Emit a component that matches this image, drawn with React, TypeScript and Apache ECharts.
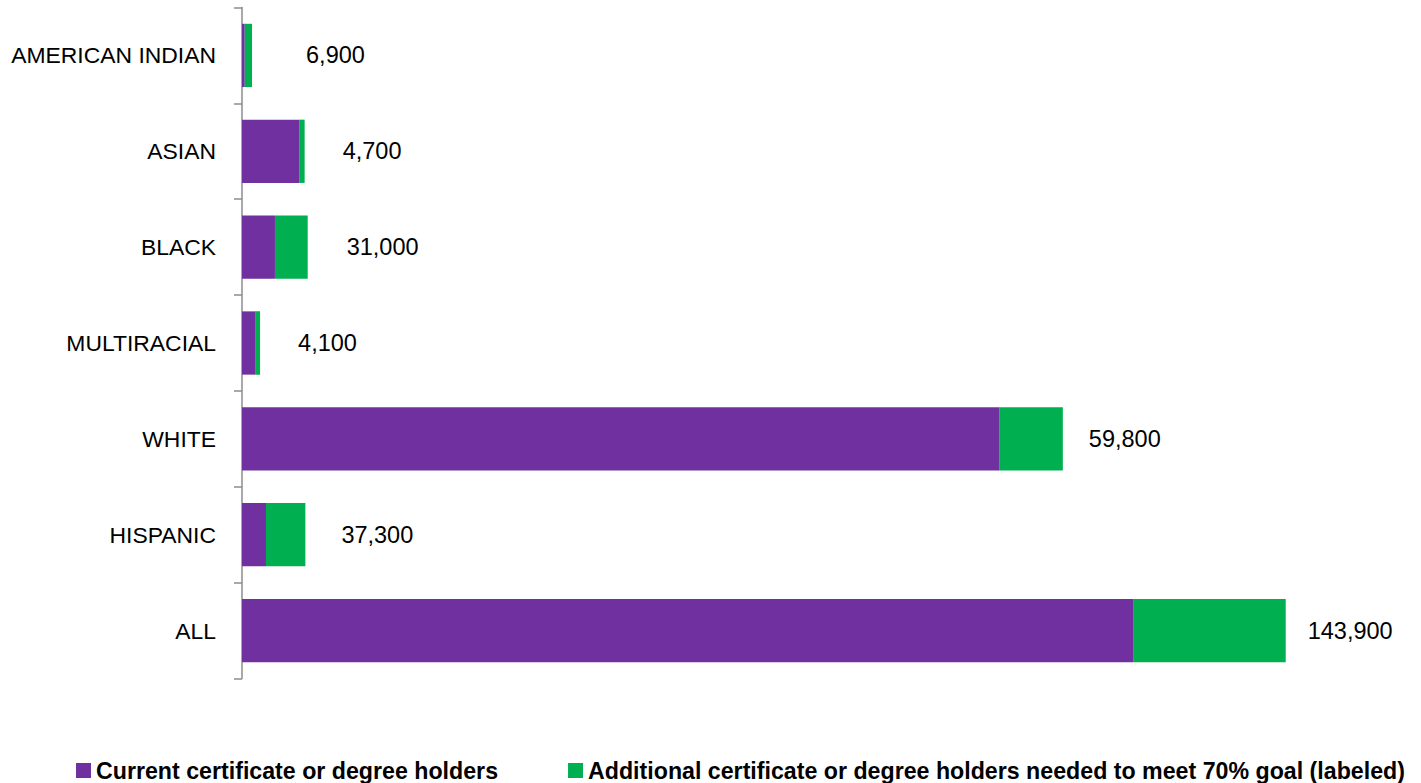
import React, { useEffect, useRef } from "react";
import * as echarts from "echarts";

const categories = ["AMERICAN INDIAN", "ASIAN", "BLACK", "MULTIRACIAL", "WHITE", "HISPANIC", "ALL"];
const currentHolders = [2600, 54600, 31200, 13000, 717300, 22700, 844200];
const additionalNeeded = [6900, 4700, 31000, 4100, 59800, 37300, 143900];
const labelGaps = [54, 38, 39, 38, 26, 36, 22];
const seriesNames = [
  "Current certificate or degree holders",
  "Additional certificate or degree holders needed to meet 70% goal (labeled)",
];

const FONT = "'Liberation Sans', Arial, sans-serif";

export default function App() {
  const ref = useRef<HTMLDivElement>(null);
  useEffect(() => {
    if (!ref.current) return;
    const chart = echarts.init(ref.current, null, { renderer: "svg" });
    chart.setOption({
      animation: false,
      backgroundColor: "#ffffff",
      textStyle: { fontFamily: FONT },
      grid: { left: 242, right: 122.7, top: 7.5, bottom: 783 - 678.5, containLabel: false },
      legend: {
        left: 76,
        top: 759,
        padding: 0,
        itemGap: 70,
        itemWidth: 15,
        itemHeight: 15,
        icon: "rect",
        textStyle: { fontFamily: FONT, fontSize: 23.2, fontWeight: "bold", color: "#000", lineHeight: 23 },
        data: seriesNames,
      },
      xAxis: {
        type: "value",
        min: 0,
        max: 1000000,
        show: false,
        splitLine: { show: false },
      },
      yAxis: {
        type: "category",
        inverse: true,
        data: categories,
        axisLine: { show: true, lineStyle: { color: "#8c8c8c", width: 1.5 } },
        axisTick: { show: true, length: 8, lineStyle: { color: "#8c8c8c", width: 1.5 } },
        axisLabel: { margin: 26, color: "#000", fontSize: 22.9, fontFamily: FONT },
      },
      series: [
        {
          name: seriesNames[0],
          type: "bar",
          stack: "total",
          barWidth: "66%",
          itemStyle: { color: "#7030A0" },
          data: currentHolders,
        },
        {
          name: seriesNames[1],
          type: "bar",
          stack: "total",
          barWidth: "66%",
          itemStyle: { color: "#00B050" },
          data: additionalNeeded.map((v, i) => ({
            value: v,
            label: {
              show: true,
              position: "right",
              distance: labelGaps[i],
              color: "#000",
              fontSize: 23.5,
              fontFamily: FONT,
              formatter: (p: any) => Number(p.value).toLocaleString("en-US"),
            },
          })),
        },
      ],
    });
    return () => chart.dispose();
  }, []);
  return (
    <div
      ref={ref}
      style={{ position: "fixed", left: 0, top: 0, width: 1421, height: 783, background: "#fff" }}
    />
  );
}
